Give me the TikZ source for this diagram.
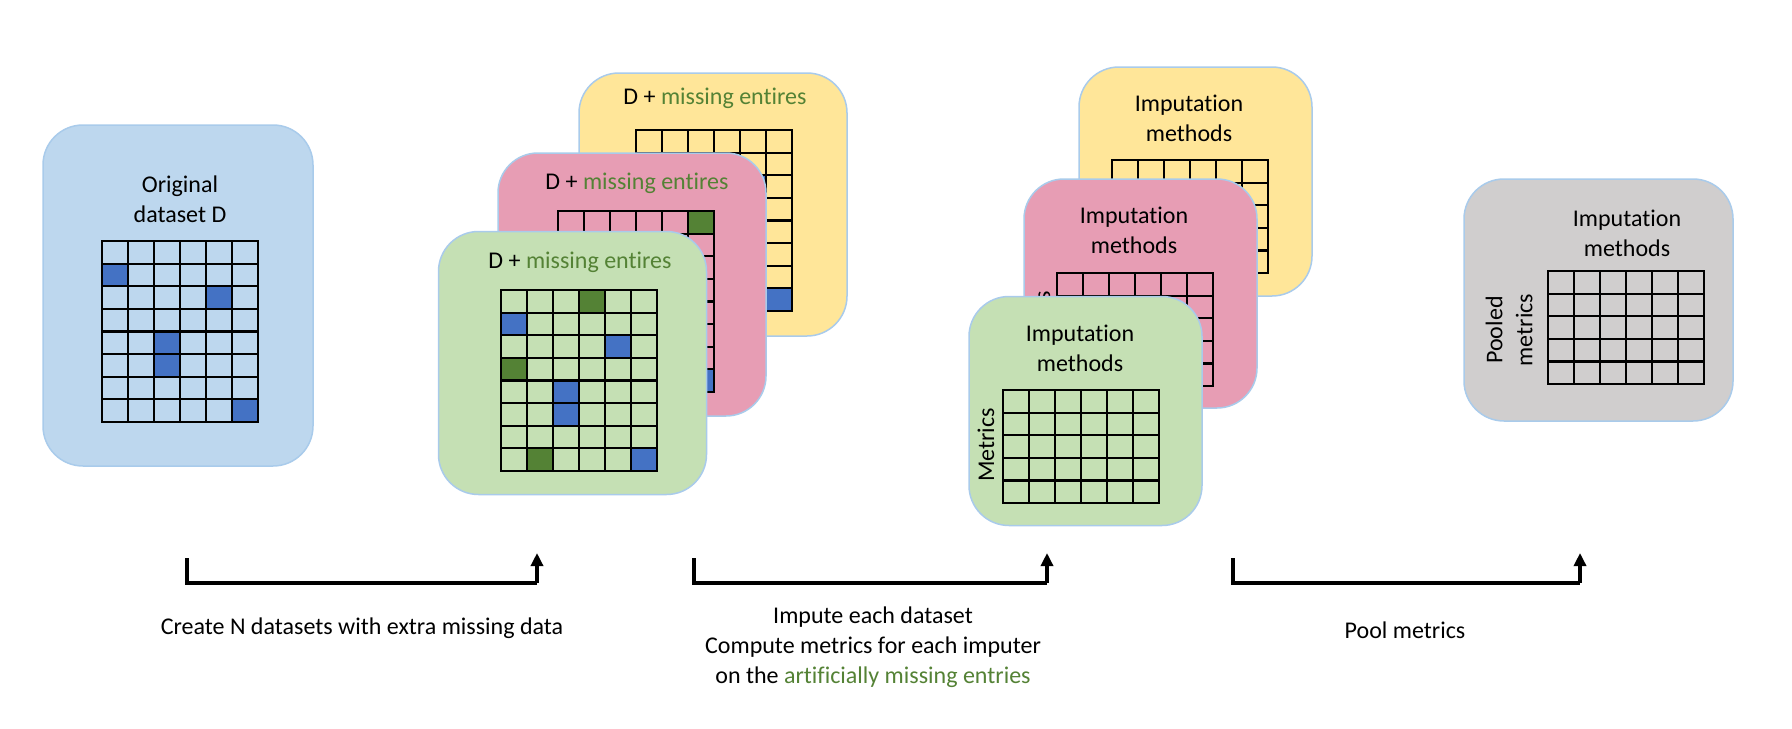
\documentclass[tikz,border=0pt]{standalone}
\usepackage{fontspec}
\setmainfont{Carlito}[Ligatures={NoCommon,NoRequired,NoContextual}]
\usetikzlibrary{arrows.meta}
\definecolor{cblue}{HTML}{BDD7EE}
\definecolor{cgreen}{HTML}{C5E0B4}
\definecolor{cpink}{HTML}{E79DB4}
\definecolor{cyellow}{HTML}{FFE699}
\definecolor{cgray}{HTML}{D0CECE}
\definecolor{cborder}{HTML}{A9CBEB}
\definecolor{dblue}{HTML}{4472C4}
\definecolor{dgreen}{HTML}{548235}
\newcommand\mkgrid[4]{%
  \foreach \gi in {0,...,#4}{\draw[gridln] ({#1+\gi*26},#2) -- ({#1+\gi*26},{#2+#3*22.6});}
  \foreach \gj in {0,...,#3}{\draw[gridln] (#1,{#2+\gj*22.6}) -- ({#1+#4*26},{#2+\gj*22.6});}
}
\newcommand\mkcell[5]{\fill[#5] ({#1+(#4-1)*26},{#2+(#3-1)*22.6}) rectangle ++(26,22.6);}
\newcommand\bluepat[2]{%
  \mkcell{#1}{#2}{2}{1}{dblue}\mkcell{#1}{#2}{3}{5}{dblue}\mkcell{#1}{#2}{5}{3}{dblue}%
  \mkcell{#1}{#2}{6}{3}{dblue}\mkcell{#1}{#2}{8}{6}{dblue}}
\tikzset{
  card/.style={draw=cborder, line width=0.75pt, rounded corners=20pt, inner sep=0pt},
  midcard/.style={card, minimum width=134pt, minimum height=131.5pt},
  rcard/.style={card, minimum width=116.5pt, minimum height=114.5pt},
  gridln/.style={draw=black, line width=1.1pt, line cap=rect},
  lbl/.style={font=\fontsize{12pt}{15pt}\selectfont, align=center, inner sep=0pt, text=black},
  flow/.style={draw=black, line width=1.65pt},
  flowtip/.style={flow, -{Triangle[width=6pt,length=6.5pt]}}
}
\begin{document}
\begin{tikzpicture}[x=0.5pt,y=-0.5pt]
\useasboundingbox (0,0) rectangle (1792,728);
\fill[white] (0,0) rectangle (1792,728);

% original dataset
\node[card, fill=cblue, minimum width=135pt, minimum height=170.5pt] (orig) at (178,295.5) {};
\node[lbl] (origt) at (180,199) {Original\\dataset D};
\bluepat{102}{241}
\mkgrid{102}{241}{8}{6}

% middle stack
\node[midcard, fill=cyellow] (my) at (713,204.5) {};
\node[lbl] (myt) at (715,98) {D + \textcolor{dgreen}{missing entires}};
\bluepat{636}{130}
\mkgrid{636}{130}{8}{6}

\node[midcard, fill=cpink] (mp) at (632,284.5) {};
\node[lbl] (mpt) at (637,183) {D + \textcolor{dgreen}{missing entires}};
\bluepat{558}{211}
\mkcell{558}{211}{1}{6}{dgreen}
\mkgrid{558}{211}{8}{6}

\node[midcard, fill=cgreen] (mg) at (572.5,363) {};
\node[lbl] (mgt) at (580,262) {D + \textcolor{dgreen}{missing entires}};
\bluepat{501}{290}
\mkcell{501}{290}{1}{4}{dgreen}
\mkcell{501}{290}{4}{1}{dgreen}
\mkcell{501}{290}{8}{2}{dgreen}
\mkgrid{501}{290}{8}{6}

% right stack
\node[rcard, fill=cyellow] (ry) at (1195.5,181.5) {};
\node[lbl] (ryt) at (1189,118) {Imputation\\methods};
\mkgrid{1112}{160}{5}{6}

\node[rcard, fill=cpink] (rp) at (1140.5,293.5) {};
\node[lbl] (rpt) at (1134,230.5) {Imputation\\methods};
\node[lbl, rotate=90] (rpm) at (1042,328) {Metrics};
\mkgrid{1057}{273}{5}{6}

\node[rcard, fill=cgreen] (rg) at (1085.5,411) {};
\node[lbl] (rgt) at (1080,348.5) {Imputation\\methods};
\node[lbl, rotate=90] (rgm) at (986,445) {Metrics};
\mkgrid{1003}{390}{5}{6}

% pooled
\node[card, fill=cgray, minimum width=134.5pt, minimum height=121pt] (pool) at (1598.5,300) {};
\node[lbl] (poolt) at (1627,233) {Imputation\\methods};
\node[lbl, rotate=90] (poolm) at (1509,330) {Pooled\\metrics};
\mkgrid{1548}{271}{5}{6}

% arrows
\coordinate (a1s) at (187,558);
\coordinate (a1b) at (187,583);
\coordinate (a1c) at (537,583);
\coordinate (a1e) at (537,553);
\draw[flow] (a1s) -- (a1b) -- (a1c);
\draw[flowtip] (a1c) -- (a1e);

\coordinate (a2s) at (694,558);
\coordinate (a2b) at (694,583);
\coordinate (a2c) at (1047,583);
\coordinate (a2e) at (1047,553);
\draw[flow] (a2s) -- (a2b) -- (a2c);
\draw[flowtip] (a2c) -- (a2e);

\coordinate (a3s) at (1233,558);
\coordinate (a3b) at (1233,583);
\coordinate (a3c) at (1580,583);
\coordinate (a3e) at (1580,553);
\draw[flow] (a3s) -- (a3b) -- (a3c);
\draw[flowtip] (a3c) -- (a3e);

\node[lbl] (t1) at (362,628) {Create N datasets with extra missing data};
\node[lbl] (t2) at (873,647) {Impute each dataset\\Compute metrics for each imputer\\on the \textcolor{dgreen}{artificially missing entries}};
\node[lbl] (t3) at (1405,630) {Pool metrics};
\end{tikzpicture}
\end{document}
